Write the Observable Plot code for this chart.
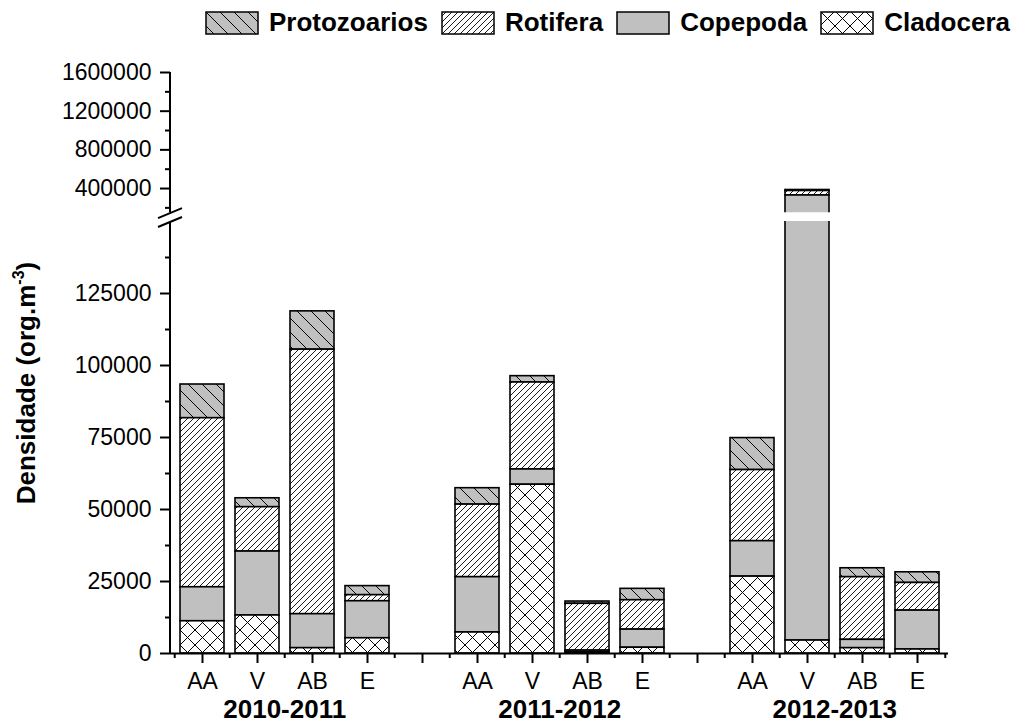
<!DOCTYPE html>
<html>
<head>
<meta charset="utf-8">
<script src="https://cdn.jsdelivr.net/npm/d3@7"></script>
<script src="https://cdn.jsdelivr.net/npm/@observablehq/plot@0.6"></script>
<style>
  body { margin: 0; background: #fff; font-family: "Liberation Sans", Arial, Helvetica, sans-serif; }
  #chart { position: relative; width: 1016px; height: 726px; overflow: hidden; background: #fff; }
  #chart svg.layer { position: absolute; left: 0; top: 0; }
  #legend { position: absolute; top: 7px; right: 6px; display: flex; align-items: center;
            font-weight: bold; font-size: 26px; color: #000; white-space: nowrap; }
  #legend .item { display: flex; align-items: center; margin-left: 13px; }
  #legend .item:first-child { margin-left: 0; }
  #legend .item svg { display: block; margin-right: 10px; }
</style>
</head>
<body>
<svg width="0" height="0" style="position:absolute">
  <defs>
    <pattern id="hatch-protozoarios" patternUnits="userSpaceOnUse" width="14" height="14">
      <rect width="14" height="14" fill="#c0c0c0"/>
      <path d="M0,0L14,14M-2,12L2,16M12,-2L16,2" stroke="#000" stroke-width="1"/>
    </pattern>
    <pattern id="hatch-rotifera" patternUnits="userSpaceOnUse" width="6" height="6">
      <rect width="6" height="6" fill="#fff"/>
      <path d="M0,6L6,0M-1,1L1,-1M5,7L7,5" stroke="#000" stroke-width="0.9"/>
    </pattern>
    <pattern id="hatch-cladocera" patternUnits="userSpaceOnUse" width="15" height="15">
      <rect width="15" height="15" fill="#fff"/>
      <path d="M0,0L15,15M15,0L0,15M-2,13L2,17M13,-2L17,2M-2,2L2,-2M13,17L17,13" stroke="#000" stroke-width="1"/>
    </pattern>
  </defs>
</svg>
<div id="chart"><div id="legend"></div></div>
<script>
// Zooplankton density by sampling season, three hydrological years.
const years = ["2010-2011", "2011-2012", "2012-2013"];
const seasons = ["AA", "V", "AB", "E"];
const taxa = ["Protozoarios", "Rotifera", "Copepoda", "Cladocera"];

// org.m-3, ordered year by year, seasons AA, V, AB, E
const cladocera    = [11200, 13200, 1850, 5300,   7300, 58600,   400, 2000,  26700,   4500, 1850, 1400];
const copepoda     = [11800, 22200, 11800, 12850, 19200, 5300,   600, 6300,  12300, 323500, 2900, 13500];
const rotifera     = [58700, 15400, 91850, 2100,  25200, 30200, 16250, 10200, 24700, 46500, 21750, 9600];
const protozoarios = [11700, 3100, 13300, 3150,   5700, 2200,   800, 3950,  11100, 10500, 3100, 3700];

const lowerTicks = [0, 25000, 50000, 75000, 100000, 125000];
const lowerMinor = [12500, 37500, 62500, 87500, 112500, 137500];
const upperTicks = [400000, 800000, 1200000, 1600000];
const upperMinor = [200000, 600000, 1000000, 1400000];
const breakValue = 150000;
const topValue = 1600000;

// ---- layout ----
const W = 1016, H = 726;
const ML = 170, MR = 68;
const lowerTop = 221, baseline = 653;
const upperTop = 72, upperBottom = 212.2;
const font = '"Liberation Sans", Arial, Helvetica, sans-serif';

const series = {Protozoarios: protozoarios, Rotifera: rotifera, Copepoda: copepoda, Cladocera: cladocera};
const fills = {
  Protozoarios: "url(#hatch-protozoarios)",
  Rotifera: "url(#hatch-rotifera)",
  Copepoda: "#c0c0c0",
  Cladocera: "url(#hatch-cladocera)"
};
const stackOrder = ["Cladocera", "Copepoda", "Rotifera", "Protozoarios"];

// one band per season, with an empty band between years
const slots = [];
years.forEach((yr, i) => {
  seasons.forEach(s => slots.push(`${yr} ${s}`));
  if (i < years.length - 1) slots.push(`gap ${i}`);
});
const step = (W - ML - MR) / slots.length;

const rows = [];
years.forEach((yr, i) => seasons.forEach((s, j) => taxa.forEach(t => {
  rows.push({key: `${yr} ${s}`, taxon: t, value: series[t][i * seasons.length + j]});
})));

const xScale = {domain: slots, paddingInner: 0.2, paddingOuter: 0.1, axis: null};
const yFormat = d3.format("d");

const bars = () => Plot.barY(rows, Plot.stackY({
  x: "key", y: "value", z: "taxon", order: stackOrder,
  fill: d => fills[d.taxon], stroke: "#000", strokeWidth: 1.6, clip: true
}));

// vertical axis line along the left edge of the frame
const axisLine = (index, scales, values, dims) => {
  const g = d3.create("svg:g");
  g.append("line")
    .attr("x1", dims.marginLeft).attr("x2", dims.marginLeft)
    .attr("y1", dims.marginTop).attr("y2", dims.height - dims.marginBottom)
    .attr("stroke", "#000").attr("stroke-width", 2);
  return g.node();
};

// the two slashes marking the scale break
const breakMarks = (index, scales, values, dims) => {
  const g = d3.create("svg:g");
  const yb = dims.height - dims.marginBottom;
  const x0 = dims.marginLeft, half = 12, rise = 5;
  const yA = yb + 1, yB = yb + 9.8;
  g.append("path")
    .attr("d", `M${x0 - half},${yA + rise}L${x0 + half},${yA - rise}L${x0 + half},${yB - rise}L${x0 - half},${yB + rise}Z`)
    .attr("fill", "#fff");
  for (const yc of [yA, yB]) {
    g.append("line")
      .attr("x1", x0 - half).attr("y1", yc + rise)
      .attr("x2", x0 + half).attr("y2", yc - rise)
      .attr("stroke", "#000").attr("stroke-width", 2);
  }
  return g.node();
};

// rotated y title with a superscript exponent
const yTitle = (index, scales, values, dims) => {
  const g = d3.create("svg:g");
  const t = g.append("text")
    .attr("transform", `translate(${dims.marginLeft - 135},383) rotate(-90)`)
    .attr("text-anchor", "middle")
    .attr("font-family", font)
    .attr("font-size", 26)
    .attr("font-weight", "bold")
    .attr("fill", "#000");
  t.append("tspan").text("Densidade (org.m");
  t.append("tspan").attr("font-size", 16).attr("dy", -11).text("-3");
  t.append("tspan").attr("dy", 11).text(")");
  return g.node();
};

const lower = Plot.plot({
  width: W, height: H,
  marginLeft: ML, marginRight: MR, marginTop: lowerTop, marginBottom: H - baseline,
  style: {background: "transparent", fontFamily: font, color: "#000"},
  x: xScale,
  y: {domain: [0, breakValue], axis: null},
  color: {type: "identity"},
  marks: [
    bars(),
    Plot.ruleY([0], {stroke: "#000", strokeWidth: 2}),
    axisLine,
    Plot.axisY({ticks: lowerTicks, tickSize: 10, tickPadding: 9, tickFormat: yFormat,
                fontSize: 23, strokeWidth: 2, label: null}),
    Plot.axisY({ticks: lowerMinor, tickSize: 5, tickFormat: () => "", strokeWidth: 2, label: null}),
    Plot.axisX({ticks: slots, tickSize: 10, tickPadding: 9, fontSize: 23, strokeWidth: 2, label: null,
                tickFormat: k => k.startsWith("gap") ? "" : k.split(" ")[1]}),
    Plot.axisX({ticks: slots, tickSize: 5, dx: -step / 2, strokeWidth: 2, label: null, tickFormat: () => ""}),
    Plot.axisX({ticks: [slots[slots.length - 1]], tickSize: 5, dx: step / 2, strokeWidth: 2, label: null,
                tickFormat: () => ""}),
    Plot.text(years, {
      x: yr => `${yr} AB`, dx: -step / 2, frameAnchor: "bottom", dy: 64,
      text: d => d, fontSize: 26, fontWeight: "bold", fill: "#000"
    }),
    yTitle
  ]
});

const upper = Plot.plot({
  width: W, height: H,
  marginLeft: ML, marginRight: MR, marginTop: upperTop, marginBottom: H - upperBottom,
  style: {background: "transparent", fontFamily: font, color: "#000"},
  x: xScale,
  y: {domain: [breakValue, topValue], axis: null},
  color: {type: "identity"},
  marks: [
    bars(),
    axisLine,
    Plot.axisY({ticks: upperTicks, tickSize: 10, tickPadding: 9, tickFormat: yFormat,
                fontSize: 23, strokeWidth: 2, label: null}),
    Plot.axisY({ticks: upperMinor, tickSize: 5, tickFormat: () => "", strokeWidth: 2, label: null}),
    breakMarks
  ]
});

const chart = document.getElementById("chart");
lower.classList.add("layer");
upper.classList.add("layer");
chart.insertBefore(lower, chart.firstChild);
chart.insertBefore(upper, document.getElementById("legend"));

// legend: swatch + name for each taxon
const legend = d3.select("#legend");
for (const t of taxa) {
  const item = legend.append("div").attr("class", "item");
  const sw = item.append("svg").attr("width", 54).attr("height", 24);
  sw.append("rect").attr("x", 1).attr("y", 1).attr("width", 52).attr("height", 22)
    .attr("fill", fills[t]).attr("stroke", "#000").attr("stroke-width", 1.5);
  item.append("span").text(t);
}
</script>
</body>
</html>
